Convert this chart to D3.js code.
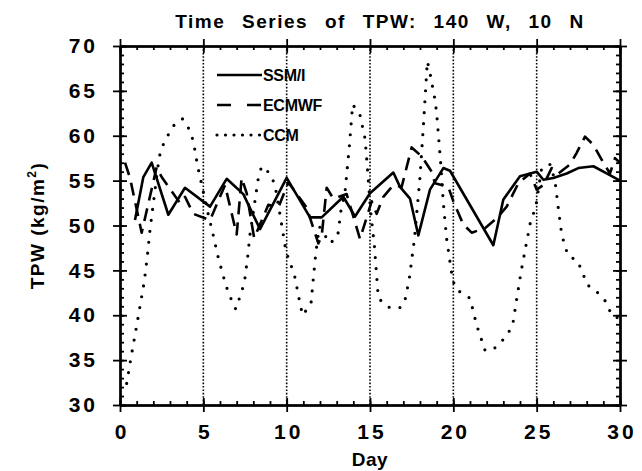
<!DOCTYPE html>
<html>
<head>
<meta charset="utf-8">
<script src="https://cdn.jsdelivr.net/npm/d3@7"></script>
<style>
  body { margin: 0; background: #fff; }
  svg text { font-family: "Liberation Sans", Arial, Helvetica, sans-serif; font-weight: bold; fill: #000; }
</style>
</head>
<body>
<svg id="tpw" width="642" height="471"></svg>
<script>
// values (day, TPW kg/m2)
const ssmiDays = [0.9, 1.4, 1.9, 2.9, 3.9, 5.4, 6.4, 7.4, 8.4, 10.0, 11.4, 12.1, 13.4, 14.1, 15.0, 16.4, 16.8, 17.4, 17.9, 18.6, 19.4, 19.8, 22.4, 23.0, 24.0, 25.0, 25.4, 26.0, 26.8, 27.5, 28.4, 29.2, 30.0];
const ssmiVals = [50.6, 55.4, 57.0, 51.2, 54.2, 52.1, 55.2, 53.5, 49.6, 55.3, 50.9, 50.9, 53.2, 51.0, 53.6, 55.9, 54.3, 53.0, 48.9, 54.0, 56.4, 56.1, 47.8, 52.9, 55.5, 56.0, 55.1, 55.3, 55.8, 56.4, 56.6, 55.8, 55.0];

const ecmwfDays = [0.3, 0.6, 1.3, 2.2, 2.5, 3.6, 3.9, 4.4, 5.4, 6.3, 7.0, 7.3, 7.6, 8.05, 8.9, 9.5, 10.1, 11.2, 11.9, 12.1, 12.4, 12.8, 13.6, 14.4, 15.1, 15.4, 15.8, 16.4, 16.9, 17.5, 18.1, 18.7, 18.9, 19.7, 20.0, 20.6, 21.1, 21.9, 22.6, 23.2, 23.9, 24.6, 25.0, 25.4, 25.9, 26.3, 27.0, 27.4, 27.9, 28.4, 29.0, 29.4, 29.7, 30.0];
const ecmwfVals = [57.0, 55.3, 49.2, 56.5, 55.4, 52.5, 53.2, 51.3, 50.6, 54.5, 49.0, 55.3, 53.6, 48.6, 52.3, 52.0, 54.8, 52.0, 48.0, 48.8, 54.2, 53.0, 53.5, 48.5, 52.7, 51.3, 53.2, 54.5, 54.3, 58.7, 57.7, 56.0, 54.7, 54.3, 52.7, 50.1, 49.2, 49.7, 50.8, 52.1, 54.7, 55.8, 54.0, 54.5, 56.4, 55.8, 56.8, 58.1, 59.9, 59.0, 57.0, 55.8, 57.5, 57.0];

const ccmDays = [0.4, 0.66, 0.94, 1.2, 1.46, 1.64, 1.8, 2.3, 2.44, 2.8, 3.2, 3.74, 4.16, 4.4, 4.66, 5.3, 5.56, 5.9, 6.34, 6.6, 6.94, 7.22, 7.46, 7.66, 7.8, 8.3, 8.5, 9.0, 9.3, 9.7, 9.96, 10.24, 10.5, 10.8, 10.96, 11.46, 11.6, 11.76, 11.96, 12.6, 13.06, 13.26, 13.5, 13.76, 13.96, 14.4, 14.7, 14.8, 15.04, 15.26, 15.44, 15.5, 16.1, 16.76, 17.06, 17.36, 17.56, 17.66, 18.0, 18.2, 18.44, 18.6, 18.9, 19.0, 19.24, 19.4, 19.6, 19.96, 20.24, 21.0, 21.4, 21.9, 22.4, 23.16, 23.56, 23.8, 24.06, 24.34, 24.64, 24.94, 25.3, 25.8, 26.1, 26.26, 26.46, 26.64, 26.9, 27.44, 27.72, 28.04, 28.74, 29.16, 29.5, 30.0];
const ccmVals = [32.4, 35.3, 38.2, 41.0, 43.8, 46.6, 49.5, 56.9, 58.4, 59.8, 61.1, 61.9, 60.7, 59.4, 56.6, 51.2, 49.2, 46.4, 43.4, 42.1, 40.7, 42.2, 43.6, 46.5, 49.0, 55.3, 56.6, 55.8, 54.5, 50.1, 47.1, 45.7, 44.2, 41.3, 40.0, 41.3, 44.1, 47.1, 49.9, 48.0, 48.8, 51.7, 53.7, 58.8, 63.5, 62.3, 59.7, 57.5, 51.5, 47.8, 43.4, 41.9, 40.9, 40.8, 41.3, 44.1, 47.0, 48.4, 55.4, 61.0, 68.3, 67.0, 64.0, 62.5, 57.0, 52.5, 48.5, 43.9, 42.8, 41.9, 38.9, 36.1, 36.2, 37.6, 38.9, 41.8, 44.8, 47.6, 50.5, 52.0, 56.4, 56.8, 55.0, 52.5, 49.6, 48.0, 46.6, 46.1, 44.9, 43.4, 42.4, 41.5, 40.0, 39.6];

const majorDays = [0, 5, 10, 15, 20, 25, 30];
const gridDays = [5, 10, 15, 20, 25];
const minorDays = d3.range(0, 31);
const majorTpw = [30, 35, 40, 45, 50, 55, 60, 65, 70];
const minorTpw = d3.range(30, 71);

const seriesNames = ['SSM/I', 'ECMWF', 'CCM'];
const seriesDash = [null, '13 8', '0 11'];
const legendDash = [null, '14 16', '0 8.5'];

var svg = d3.select("svg#tpw"),
    margin = {top: 46, right: 22, bottom: 66, left: 120},
    width = +svg.attr("width") - margin.left - margin.right,
    height = +svg.attr("height") - margin.top - margin.bottom,
    g = svg.append("g").attr("transform", "translate(" + margin.left + "," + margin.top + ")");

var x = d3.scaleLinear().domain([0, 30]).range([0, width]);
var y = d3.scaleLinear().domain([30, 70]).range([height, 0]);

// dotted day separators
g.selectAll(".vline")
    .data(gridDays)
    .enter().append("line")
    .attr("x1", d => x(d)).attr("x2", d => x(d))
    .attr("y1", 0).attr("y2", height)
    .attr("stroke", "#000")
    .attr("stroke-width", 1.6)
    .attr("stroke-dasharray", "1.6 1.8");

function styleAxis(sel) {
    sel.select(".domain").attr("stroke-width", 2);
    sel.selectAll(".tick line").attr("stroke-width", 1.8);
}

// bottom axis
var axBottom = g.append("g").attr("transform", "translate(0," + height + ")");
axBottom.append("g").call(d3.axisBottom(x).tickValues(minorDays).tickSizeInner(-4).tickSizeOuter(0).tickFormat("")).call(styleAxis);
axBottom.append("g").call(d3.axisBottom(x).tickValues(majorDays).tickSizeInner(-7).tickSizeOuter(0).tickFormat("")).call(styleAxis);
axBottom.append("g").call(d3.axisBottom(x).tickValues(majorDays).tickSizeInner(7).tickSizeOuter(0).tickPadding(12))
    .call(styleAxis)
    .call(a => a.selectAll("text").attr("font-size", 21).attr("letter-spacing", 3).attr("dx", 1.5).attr("font-family", null));

// top axis
var axTop = g.append("g");
axTop.append("g").call(d3.axisTop(x).tickValues(minorDays).tickSizeInner(-4).tickSizeOuter(0).tickFormat("")).call(styleAxis);
axTop.append("g").call(d3.axisTop(x).tickValues(majorDays).tickSizeInner(7).tickSizeOuter(0).tickFormat("")).call(styleAxis);
axTop.append("g").call(d3.axisTop(x).tickValues(majorDays).tickSizeInner(-7).tickSizeOuter(0).tickFormat("")).call(styleAxis);

// left axis
var axLeft = g.append("g");
axLeft.append("g").call(d3.axisLeft(y).tickValues(minorTpw).tickSizeInner(-4).tickSizeOuter(0).tickFormat("")).call(styleAxis);
axLeft.append("g").call(d3.axisLeft(y).tickValues(majorTpw).tickSizeInner(-7).tickSizeOuter(0).tickFormat("")).call(styleAxis);
axLeft.append("g").call(d3.axisLeft(y).tickValues(majorTpw).tickSizeInner(7).tickSizeOuter(0).tickPadding(15))
    .call(styleAxis)
    .call(a => a.selectAll("text").attr("font-size", 21).attr("letter-spacing", 3).attr("font-family", null));

// right axis
var axRight = g.append("g").attr("transform", "translate(" + width + ",0)");
axRight.append("g").call(d3.axisRight(y).tickValues(minorTpw).tickSizeInner(-4).tickSizeOuter(0).tickFormat("")).call(styleAxis);
axRight.append("g").call(d3.axisRight(y).tickValues(majorTpw).tickSizeInner(7).tickSizeOuter(0).tickFormat("")).call(styleAxis);
axRight.append("g").call(d3.axisRight(y).tickValues(majorTpw).tickSizeInner(-7).tickSizeOuter(0).tickFormat("")).call(styleAxis);

// series
var line = d3.line().x(d => x(d[0])).y(d => y(d[1]));
var seriesData = [
    d3.zip(ssmiDays, ssmiVals),
    d3.zip(ecmwfDays, ecmwfVals),
    d3.zip(ccmDays, ccmVals)
];

// draw CCM first so the solid line sits on top
[2, 1, 0].forEach(function(i) {
    g.append("path")
        .datum(seriesData[i])
        .attr("fill", "none")
        .attr("stroke", "#000")
        .attr("stroke-width", i === 2 ? 3.2 : 2.6)
        .attr("stroke-linecap", i === 2 ? "round" : "butt")
        .attr("stroke-linejoin", "round")
        .attr("stroke-dasharray", seriesDash[i])
        .attr("d", line);
});

// legend
var legend = svg.append("g").attr("transform", "translate(217,0)");
var legendY = [75, 105, 135];
seriesNames.forEach(function(name, i) {
    legend.append("line")
        .attr("x1", 0).attr("x2", 45)
        .attr("y1", legendY[i]).attr("y2", legendY[i])
        .attr("stroke", "#000")
        .attr("stroke-width", i === 2 ? 3.2 : 2.6)
        .attr("stroke-linecap", i === 2 ? "round" : "butt")
        .attr("stroke-dasharray", legendDash[i]);
    legend.append("text")
        .attr("x", 46)
        .attr("y", legendY[i] + 6)
        .attr("font-size", 16)
        .attr("letter-spacing", -0.3)
        .text(name);
});

// title and axis labels
svg.append("text")
    .attr("x", 380)
    .attr("y", 28)
    .attr("text-anchor", "middle")
    .attr("font-size", 19)
    .attr("letter-spacing", 1.5)
    .attr("word-spacing", 10)
    .text("Time Series of TPW: 140 W, 10 N");

svg.append("text")
    .attr("x", margin.left + width / 2)
    .attr("y", 466)
    .attr("text-anchor", "middle")
    .attr("font-size", 19)
    .attr("letter-spacing", 0.5)
    .text("Day");

var ylab = svg.append("text")
    .attr("transform", "translate(44," + (margin.top + height / 2) + ") rotate(-90)")
    .attr("text-anchor", "middle")
    .attr("font-size", 19)
    .attr("letter-spacing", 1.5);
ylab.append("tspan").text("TPW (kg/m");
ylab.append("tspan").attr("font-size", 12).attr("dy", -8).text("2");
ylab.append("tspan").attr("dy", 8).text(")");
</script>
</body>
</html>
